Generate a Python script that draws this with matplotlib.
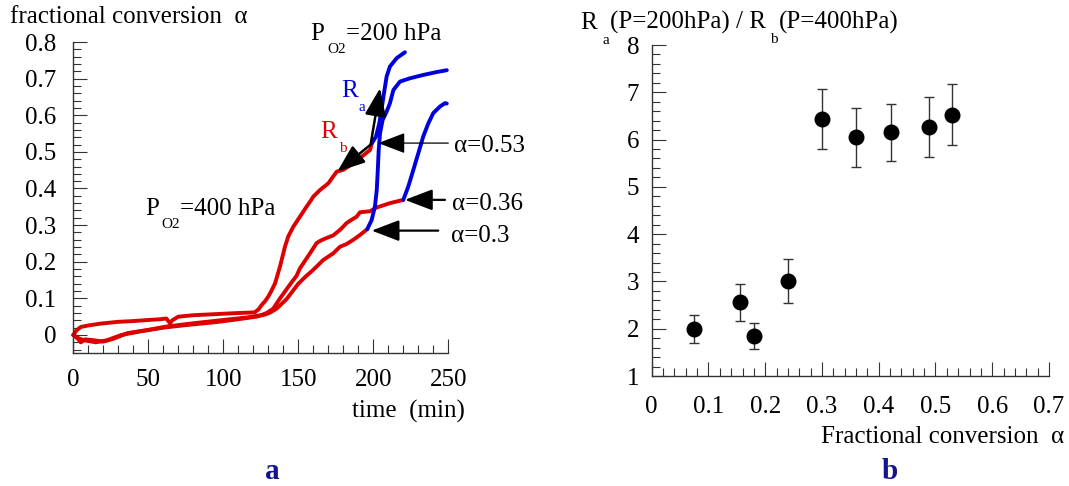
import matplotlib
matplotlib.use('Agg')
import matplotlib.pyplot as plt
from matplotlib.transforms import IdentityTransform
from matplotlib.ticker import MultipleLocator, FixedLocator
from matplotlib.patches import ArrowStyle

plt.rcParams['font.family'] = ['Liberation Serif', 'DejaVu Serif']

# ---------------- data: panel a (time in min, fractional conversion) -------------
time_red_a = [0, 2, 5, 10, 18, 30, 40, 50, 58, 62, 64.5, 66, 70, 80, 90, 100, 110, 117,
              121, 123.5, 125.6, 128, 130, 132, 134.5, 137.8, 141.1, 143.3, 146.7, 151.1,
              155.6, 158, 160, 164.5, 170, 173.3, 175.6, 180, 186.7, 192.3, 197.8, 199.1]
alpha_red_a = [0, 0.012, 0.022, 0.026, 0.031, 0.036, 0.038, 0.041, 0.043, 0.045, 0.032,
               0.040, 0.050, 0.054, 0.056, 0.058, 0.060, 0.061, 0.062, 0.070, 0.082, 0.093,
               0.105, 0.120, 0.141, 0.187, 0.241, 0.269, 0.296, 0.323, 0.351, 0.365, 0.378,
               0.396, 0.414, 0.433, 0.446, 0.451, 0.469, 0.487, 0.505, 0.524]
time_blue_a = [199.1, 201.8, 204, 205.8, 207.1, 208.9, 211.1, 215.6, 221.1]
alpha_blue_a = [0.524, 0.542, 0.578, 0.624, 0.660, 0.706, 0.733, 0.756, 0.772]

time_red_b = [0, 3, 5, 8, 13, 20, 27, 36, 50, 62, 80, 100, 116, 125, 128.9, 133.3, 137.8,
              144.5, 148.9, 151.1, 157.8, 162.2, 165, 168.9, 173.3, 177.8, 180, 182,
              184.5, 188.9, 191.1, 197.8, 202.2, 211.1, 220]
alpha_red_b = [0, -0.010, -0.020, -0.012, -0.014, -0.018, -0.010, 0.005, 0.014, 0.023,
               0.032, 0.041, 0.048, 0.054, 0.060, 0.072, 0.100, 0.138, 0.162, 0.182, 0.223,
               0.251, 0.258, 0.265, 0.272, 0.287, 0.296, 0.305, 0.312, 0.323, 0.335, 0.338,
               0.348, 0.360, 0.369]
time_blue_b = [220, 223.3, 226.7, 230, 233.3, 236.7, 240, 244.5, 247.8, 249]
alpha_blue_b = [0.369, 0.405, 0.451, 0.496, 0.542, 0.578, 0.606, 0.624, 0.633, 0.632]

time_red_c = [0, 4, 8, 15, 22, 32, 45, 60, 75, 95, 110, 122, 128, 131.1, 135.6, 142.2,
              150, 155, 160, 166.7, 173.3, 177.8, 182, 186.7, 191.1, 196]
alpha_red_c = [0, -0.010, -0.015, -0.020, -0.015, 0.0, 0.010, 0.020, 0.027, 0.035, 0.043,
               0.050, 0.056, 0.061, 0.072, 0.098, 0.140, 0.160, 0.178, 0.205, 0.223, 0.241,
               0.248, 0.260, 0.273, 0.289]
time_blue_c = [196, 198.9, 201.1, 202.3, 202.9, 203.6, 204.5, 206.2, 208.9, 211.1, 213.4,
               217.8, 224.5, 233.3, 242.3, 249]
alpha_blue_c = [0.289, 0.314, 0.351, 0.396, 0.442, 0.505, 0.551, 0.587, 0.610, 0.633,
                0.669, 0.692, 0.701, 0.710, 0.718, 0.723]

# ---------------- data: panel b ----------------
conv_b = [0.074, 0.156, 0.180, 0.240, 0.300, 0.360, 0.421, 0.488, 0.529]
ratio_b = [2.00, 2.56, 1.85, 3.01, 6.44, 6.05, 6.15, 6.27, 6.53]
ratio_err = [0.30, 0.39, 0.27, 0.46, 0.63, 0.62, 0.61, 0.63, 0.65]

left_xticks = [0, 50, 100, 150, 200, 250]
left_yticks = [0, 0.1, 0.2, 0.3, 0.4, 0.5, 0.6, 0.7, 0.8]
left_ylabels = ['0', '0.1', '0.2', '0.3', '0.4', '0.5', '0.6', '0.7', '0.8']
right_xticks = [0, 0.1, 0.2, 0.3, 0.4, 0.5, 0.6, 0.7]
right_xlabels = ['0', '0.1', '0.2', '0.3', '0.4', '0.5', '0.6', '0.7']
right_yticks = [1, 2, 3, 4, 5, 6, 7, 8]

RED = '#dd0000'
BLUE = '#0000dd'
NAVY = '#14148c'
AX = '#333333'
FS = 18
SUB = 11

W, H = 1069, 486
fig = plt.figure(figsize=(W / 100, H / 100), dpi=100)
axL = fig.add_axes([73.3 / W, 1 - 353.3 / H, 375 / W, (353.3 - 42) / H])
axR = fig.add_axes([651.7 / W, 1 - 376 / H, (1049 - 651.7) / W, (376 - 45) / H])
renderer = fig.canvas.get_renderer()


def put(x, y, s, size=FS, color='black', ha='left', weight='normal'):
    return fig.text(x, H - y, s, fontsize=size, color=color, ha=ha, va='baseline',
                    fontweight=weight, transform=IdentityTransform())


def chain(x, y, pieces, color='black'):
    # pieces: (text, size, baseline drop in px, gap before in px)
    for s, size, dy, gap in pieces:
        t = put(x + gap, y + dy, s, size=size, color=color)
        x = t.get_window_extent(renderer).x1


for ax in (axL, axR):
    ax.patch.set_alpha(0)
    for s in ('top', 'right'):
        ax.spines[s].set_visible(False)
    for s in ('left', 'bottom'):
        ax.spines[s].set_color(AX)
        ax.spines[s].set_linewidth(1.0)
    ax.tick_params(which='both', direction='in', color=AX, width=0.8, labelsize=FS)
    ax.tick_params(which='major', length=10)
    ax.tick_params(which='minor', length=5.5)

# ---------------- panel a ----------------
lw = 2.8
for t, a in ((time_red_a, alpha_red_a), (time_red_b, alpha_red_b), (time_red_c, alpha_red_c)):
    axL.plot(t, a, color=RED, lw=lw, solid_capstyle='round', solid_joinstyle='round', clip_on=False)
for t, a in ((time_blue_a, alpha_blue_a), (time_blue_b, alpha_blue_b), (time_blue_c, alpha_blue_c)):
    axL.plot(t, a, color=BLUE, lw=lw, solid_capstyle='round', solid_joinstyle='round', clip_on=False)

axL.set_xlim(0, 250)
axL.set_ylim(-0.05, 0.8)
axL.xaxis.set_major_locator(FixedLocator(left_xticks))
axL.xaxis.set_minor_locator(MultipleLocator(10))
axL.set_yticks(left_yticks)
axL.set_yticklabels(left_ylabels)
axL.yaxis.set_minor_locator(MultipleLocator(0.02))
axL.tick_params(axis='y', which='major', pad=12)
axL.tick_params(axis='x', which='major', pad=11.5)

head = ArrowStyle('-|>', head_length=1.7, head_width=0.65)


def arrow(tip, tail, lwid):
    axL.annotate('', xy=tip, xytext=tail, annotation_clip=False,
                 arrowprops=dict(arrowstyle=head, color='black', lw=lwid,
                                 mutation_scale=10, shrinkA=0, shrinkB=0))


# labels first so the arrows are drawn over them
put(10, 23.3, 'fractional conversion  α')
chain(310, 40, [('P', FS, 0, 0), ('O2', SUB, 13.3, 3), ('=200 hPa', FS, 0, 0)])
chain(145, 215, [('P', FS, 0, 0), ('O2', SUB, 13.3, 3), ('=400 hPa', FS, 0, 0)])
chain(341, 96.7, [('R', FS, 0, 0), ('a', SUB, 14, 1)], color=BLUE)
chain(320.5, 138.3, [('R', FS, 0, 0), ('b', SUB, 13.4, 2)], color=RED)

arrow((203.3, 0.524), (250, 0.524), 0.9)
arrow((221.1, 0.369), (247.8, 0.369), 1.6)
arrow((198.9, 0.285), (243.3, 0.285), 1.6)
arrow((204.5, 0.674), (198.3, 0.522), 1.8)
arrow((176.0, 0.446), (198.3, 0.520), 1.8)

# ---------------- panel b ----------------
axR.errorbar(conv_b, ratio_b, yerr=ratio_err, fmt='o', color='black', ms=10.5,
             ecolor=AX, elinewidth=1.0, capsize=3.5, capthick=1.0, clip_on=False)
axR.set_xlim(0, 0.7)
axR.set_ylim(1, 8)
axR.set_xticks(right_xticks)
axR.set_xticklabels(right_xlabels)
axR.xaxis.set_minor_locator(MultipleLocator(0.02))
axR.set_yticks(right_yticks)
axR.yaxis.set_minor_locator(MultipleLocator(0.2))
axR.tick_params(axis='y', which='major', pad=9)
axR.tick_params(axis='x', which='major', pad=14.5)

# ---------------- other texts ----------------
put(454, 151.7, 'α=0.53')
put(451.7, 210, 'α=0.36')
put(450.7, 241.7, 'α=0.3')
put(352, 418, 'time  (min)')
put(272, 479, 'a', size=21, color=NAVY, ha='center', weight='bold')

chain(580.6, 29, [('R', FS, 0, 0), ('a', SUB, 15, 5), ('(P=200hPa) / R', FS, 0, 1),
                  ('b', SUB, 14, 4), ('(P=400hPa)', FS, 0, 1)])
put(1064, 442.7, 'Fractional conversion  α', ha='right')
put(890, 479, 'b', size=21, color=NAVY, ha='center', weight='bold')

fig.savefig('out.png', dpi=100)
